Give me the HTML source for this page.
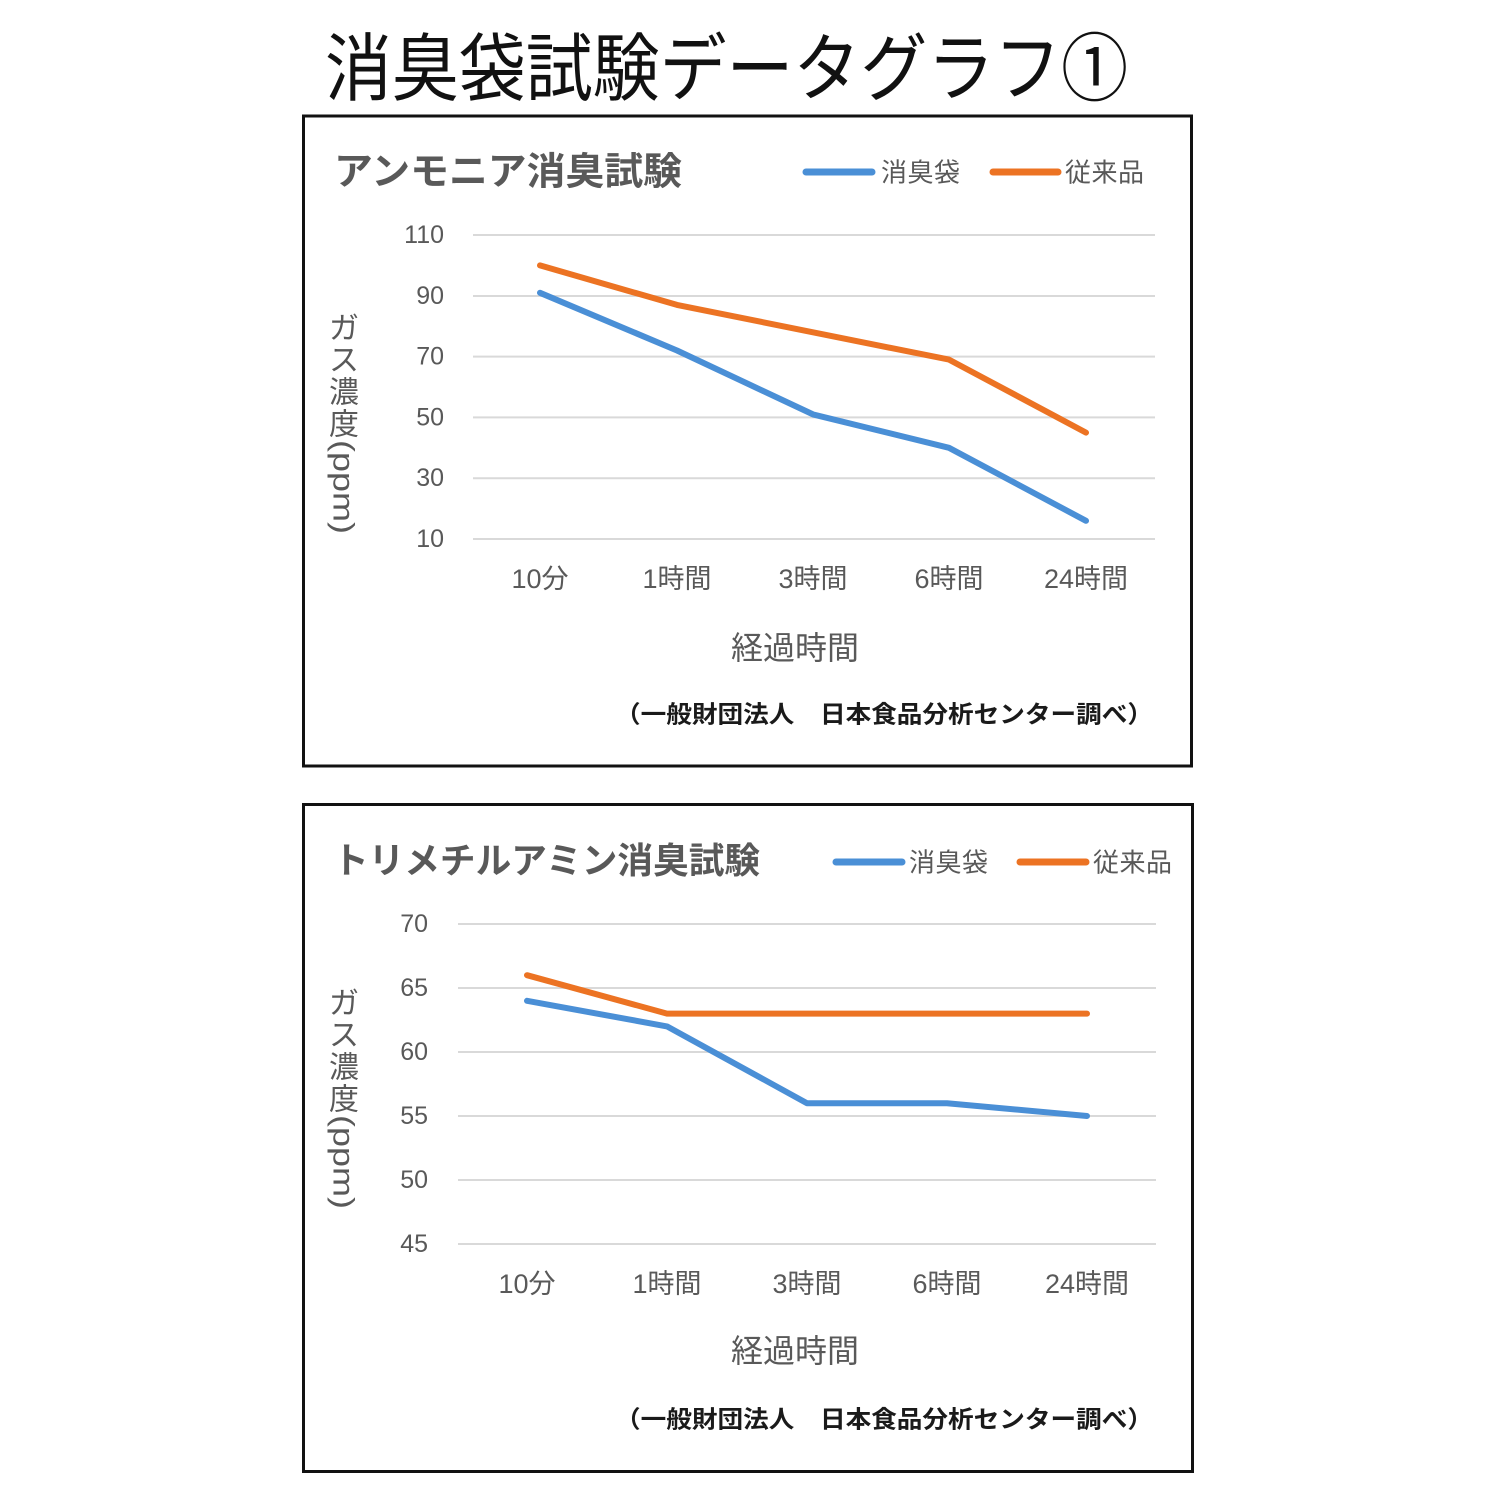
<!DOCTYPE html>
<html><head><meta charset="utf-8"><style>
html,body{margin:0;padding:0;background:#fff;}
svg{display:block;}
text{font-family:"Liberation Sans","Noto Sans CJK JP",sans-serif;}
.cjk{font-family:"Noto Sans CJK JP","Liberation Sans",sans-serif;}
</style></head><body>
<svg width="1500" height="1500" viewBox="0 0 1500 1500" xmlns="http://www.w3.org/2000/svg">
<rect width="1500" height="1500" fill="#fff"/>
<!-- main title -->
<text class="cjk" x="325" y="63" font-size="74" fill="#111" dominant-baseline="central" textLength="803" lengthAdjust="spacingAndGlyphs">消臭袋試験データグラフ①</text>

<!-- ===== Chart 1 ===== -->
<rect x="303.5" y="116" width="888" height="650" fill="#fff" stroke="#111" stroke-width="3"/>
<text class="cjk" x="334" y="168" font-size="38" font-weight="bold" fill="#595959" dominant-baseline="central" textLength="348" lengthAdjust="spacingAndGlyphs">アンモニア消臭試験</text>
<line x1="806" y1="172" x2="872" y2="172" stroke="#4a8fd6" stroke-width="7" stroke-linecap="round"/>
<text class="cjk" x="881" y="171" font-size="26" fill="#595959" dominant-baseline="central" textLength="79" lengthAdjust="spacing">消臭袋</text>
<line x1="993" y1="172" x2="1058" y2="172" stroke="#ec7323" stroke-width="7" stroke-linecap="round"/>
<text class="cjk" x="1065" y="171" font-size="26" fill="#595959" dominant-baseline="central" textLength="79" lengthAdjust="spacing">従来品</text>

<g stroke="#d9d9d9" stroke-width="2">
<line x1="473" y1="235" x2="1155" y2="235"/>
<line x1="473" y1="296" x2="1155" y2="296"/>
<line x1="473" y1="356.6" x2="1155" y2="356.6"/>
<line x1="473" y1="417.4" x2="1155" y2="417.4"/>
<line x1="473" y1="478.2" x2="1155" y2="478.2"/>
<line x1="473" y1="539" x2="1155" y2="539"/>
</g>
<g font-size="25" fill="#595959" text-anchor="end" dominant-baseline="central">
<text x="444" y="235">110</text>
<text x="444" y="296">90</text>
<text x="444" y="356.6">70</text>
<text x="444" y="417.4">50</text>
<text x="444" y="478.2">30</text>
<text x="444" y="539">10</text>
</g>
<g font-size="27" fill="#595959" text-anchor="middle" dominant-baseline="central">
<text x="540" y="579">10分</text>
<text x="677" y="579">1時間</text>
<text x="813" y="579">3時間</text>
<text x="949" y="579">6時間</text>
<text x="1086" y="579">24時間</text>
</g>
<text class="cjk" x="795" y="646" font-size="32" fill="#595959" text-anchor="middle" dominant-baseline="central">経過時間</text>
<text class="cjk" x="615" y="712" font-size="24" font-weight="600" fill="#1a1a1a" dominant-baseline="central" textLength="538" lengthAdjust="spacingAndGlyphs">（一般財団法人　日本食品分析センター調べ）</text>

<g class="cjk" font-size="30" fill="#595959" text-anchor="middle" dominant-baseline="central">
<text x="344" y="329">ガ</text>
<text x="344" y="361">ス</text>
<text x="344" y="393">濃</text>
<text x="344" y="425">度</text>
</g>
<text x="0" y="0" font-size="30" fill="#595959" text-anchor="middle" dominant-baseline="central" transform="translate(343,487) rotate(90)" textLength="94" lengthAdjust="spacingAndGlyphs">(ppm)</text>

<polyline points="540,265.4 677,304.9 813,332.3 949,359.6 1086,432.6" fill="none" stroke="#ec7323" stroke-width="6" stroke-linecap="round" stroke-linejoin="round"/>
<polyline points="540,292.8 677,350.5 813,414.4 949,447.8 1086,520.8" fill="none" stroke="#4a8fd6" stroke-width="6" stroke-linecap="round" stroke-linejoin="round"/>

<!-- ===== Chart 2 ===== -->
<rect x="303.5" y="804.5" width="889" height="667" fill="#fff" stroke="#111" stroke-width="3"/>
<text class="cjk" x="333" y="858" font-size="36" font-weight="bold" fill="#595959" dominant-baseline="central" textLength="427" lengthAdjust="spacingAndGlyphs">トリメチルアミン消臭試験</text>
<line x1="836" y1="862" x2="902" y2="862" stroke="#4a8fd6" stroke-width="7" stroke-linecap="round"/>
<text class="cjk" x="909" y="861" font-size="26" fill="#595959" dominant-baseline="central" textLength="79" lengthAdjust="spacing">消臭袋</text>
<line x1="1020" y1="862" x2="1086" y2="862" stroke="#ec7323" stroke-width="7" stroke-linecap="round"/>
<text class="cjk" x="1093" y="861" font-size="26" fill="#595959" dominant-baseline="central" textLength="79" lengthAdjust="spacing">従来品</text>

<g stroke="#d9d9d9" stroke-width="2">
<line x1="458" y1="924" x2="1156" y2="924"/>
<line x1="458" y1="988" x2="1156" y2="988"/>
<line x1="458" y1="1052" x2="1156" y2="1052"/>
<line x1="458" y1="1116" x2="1156" y2="1116"/>
<line x1="458" y1="1180" x2="1156" y2="1180"/>
<line x1="458" y1="1244" x2="1156" y2="1244"/>
</g>
<g font-size="25" fill="#595959" text-anchor="end" dominant-baseline="central">
<text x="428" y="924">70</text>
<text x="428" y="988">65</text>
<text x="428" y="1052">60</text>
<text x="428" y="1116">55</text>
<text x="428" y="1180">50</text>
<text x="428" y="1244">45</text>
</g>
<g font-size="27" fill="#595959" text-anchor="middle" dominant-baseline="central">
<text x="527" y="1284">10分</text>
<text x="667" y="1284">1時間</text>
<text x="807" y="1284">3時間</text>
<text x="947" y="1284">6時間</text>
<text x="1087" y="1284">24時間</text>
</g>
<text class="cjk" x="795" y="1349" font-size="32" fill="#595959" text-anchor="middle" dominant-baseline="central">経過時間</text>
<text class="cjk" x="615" y="1417" font-size="24" font-weight="600" fill="#1a1a1a" dominant-baseline="central" textLength="538" lengthAdjust="spacingAndGlyphs">（一般財団法人　日本食品分析センター調べ）</text>

<g class="cjk" font-size="30" fill="#595959" text-anchor="middle" dominant-baseline="central">
<text x="344" y="1004">ガ</text>
<text x="344" y="1036">ス</text>
<text x="344" y="1068">濃</text>
<text x="344" y="1100">度</text>
</g>
<text x="0" y="0" font-size="30" fill="#595959" text-anchor="middle" dominant-baseline="central" transform="translate(343,1162) rotate(90)" textLength="94" lengthAdjust="spacingAndGlyphs">(ppm)</text>

<polyline points="527,975.2 667,1013.6 807,1013.6 947,1013.6 1087,1013.6" fill="none" stroke="#ec7323" stroke-width="6" stroke-linecap="round" stroke-linejoin="round"/>
<polyline points="527,1000.8 667,1026.4 807,1103.2 947,1103.2 1087,1116" fill="none" stroke="#4a8fd6" stroke-width="6" stroke-linecap="round" stroke-linejoin="round"/>
</svg>
</body></html>
